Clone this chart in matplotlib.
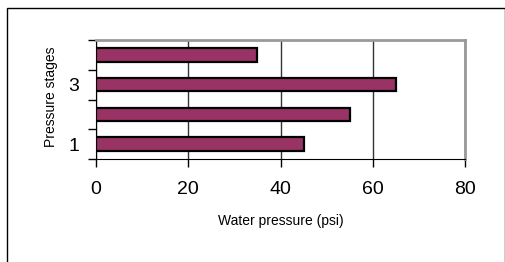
import numpy as np
import matplotlib
matplotlib.use("Agg")
import matplotlib.pyplot as plt
from matplotlib.patches import Rectangle

# data
stages = [1, 2, 3, 4]
pressure = [45, 55, 65, 35]  # psi
stage_labels = ["1", "", "3", ""]
x_ticks = [0, 20, 40, 60, 80]

bar_color = "#993366"

plt.rcParams["font.family"] = ["Liberation Sans", "DejaVu Sans"]

fig = plt.figure(figsize=(5.06, 2.62), dpi=100)
ax = fig.add_axes([96 / 506, 1 - 159 / 262, 369 / 506, 119 / 262])

ax.barh(stages, pressure, height=0.45, color=bar_color,
        edgecolor="black", linewidth=1.6, zorder=3)

ax.set_xlim(0, 80)
ax.set_ylim(0.5, 4.5)
ax.set_xticks(x_ticks)
ax.set_xticklabels([str(v) for v in x_ticks], fontsize=14)
ax.set_yticks(stages)
ax.set_yticklabels(stage_labels, fontsize=14)
ax.set_yticks(np.arange(0.5, 4.6, 1.0), minor=True)
ax.tick_params(axis="y", which="major", length=0, pad=12)
ax.tick_params(axis="y", which="minor", length=6, width=1, direction="out")
ax.tick_params(axis="x", which="major", length=6, width=1, direction="out", pad=10)

ax.grid(True, axis="x", color="#333333", linewidth=1, zorder=0)

ax.spines["top"].set_color("#999999")
ax.spines["top"].set_linewidth(2)
ax.spines["right"].set_color("#999999")
ax.spines["right"].set_linewidth(2)
ax.spines["left"].set_color("black")
ax.spines["bottom"].set_color("black")

ax.set_xlabel("Water pressure (psi)", fontsize=10, va="center")
ax.xaxis.set_label_coords(0.5, -0.52)
ax.set_ylabel("Pressure stages", fontsize=10, va="center")
ax.yaxis.set_label_coords(-0.122, 0.52)

# outer chart frame
fig.add_artist(Rectangle((7 / 506, -0.1), 498 / 506, 1 - 8 / 262 + 0.1,
                         transform=fig.transFigure, fill=False,
                         edgecolor="black", linewidth=1))

fig.savefig("out.png", dpi=100)
